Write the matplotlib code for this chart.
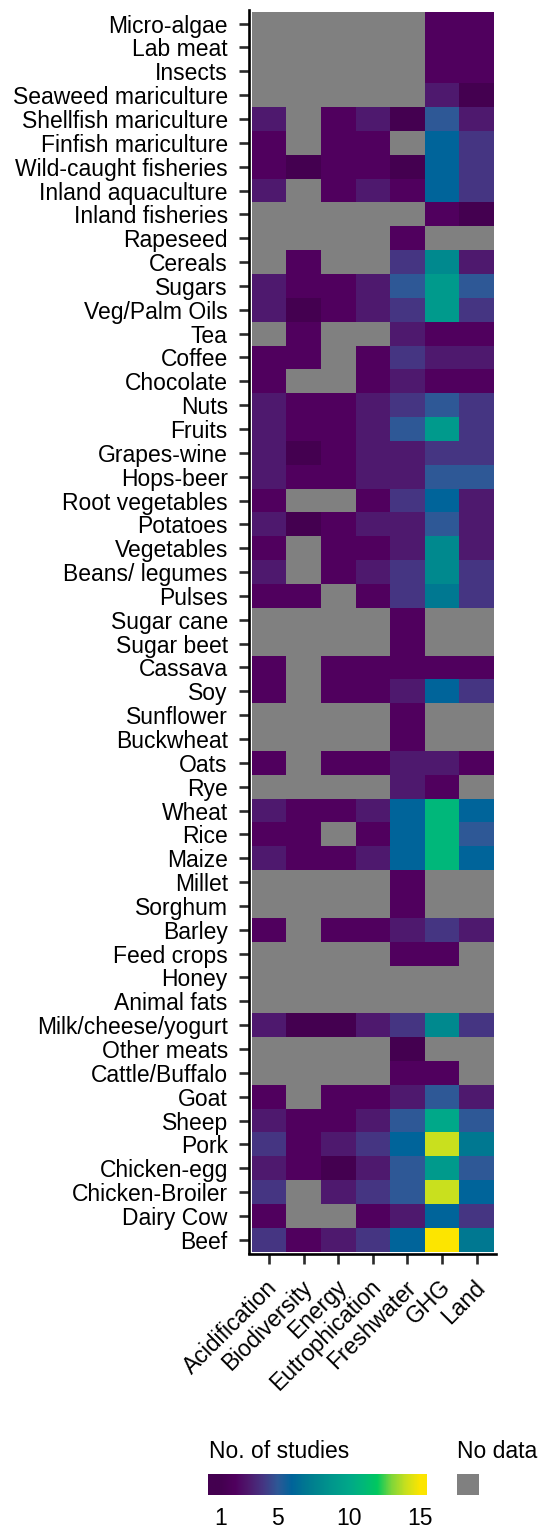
import numpy as np
import matplotlib
matplotlib.use("Agg")
import matplotlib.pyplot as plt
from matplotlib.colors import LinearSegmentedColormap, Normalize
from matplotlib.patches import Rectangle
from matplotlib.transforms import ScaledTranslation

plt.rcParams['font.family'] = ['Liberation Sans', 'DejaVu Sans']

N = np.nan

foods = ["Micro-algae", "Lab meat", "Insects", "Seaweed mariculture", "Shellfish mariculture",
         "Finfish mariculture", "Wild-caught fisheries", "Inland aquaculture", "Inland fisheries",
         "Rapeseed", "Cereals", "Sugars", "Veg/Palm Oils", "Tea", "Coffee", "Chocolate", "Nuts",
         "Fruits", "Grapes-wine", "Hops-beer", "Root vegetables", "Potatoes", "Vegetables",
         "Beans/ legumes", "Pulses", "Sugar cane", "Sugar beet", "Cassava", "Soy", "Sunflower",
         "Buckwheat", "Oats", "Rye", "Wheat", "Rice", "Maize", "Millet", "Sorghum", "Barley",
         "Feed crops", "Honey", "Animal fats", "Milk/cheese/yogurt", "Other meats",
         "Cattle/Buffalo", "Goat", "Sheep", "Pork", "Chicken-egg", "Chicken-Broiler",
         "Dairy Cow", "Beef"]

impacts = ["Acidification", "Biodiversity", "Energy", "Eutrophication", "Freshwater", "GHG", "Land"]

acidification = [N, N, N, N, 3, 2, 2, 3, N, N, N, 3, 3, N, 2, 2, 3, 3, 3, 3, 2, 3, 2, 3, 2, N,
                 N, 2, 2, N, N, 2, N, 3, 2, 3, N, N, 2, N, N, N, 3, N, N, 2, 3, 4, 3, 4, 2, 4]
biodiversity = [N, N, N, N, N, N, 1, N, N, N, 2, 2, 1, 2, 2, N, 2, 2, 1, 2, N, 1, N, N, 2, N,
                N, N, N, N, N, N, N, 2, 2, 2, N, N, N, N, N, N, 1, N, N, N, 2, 2, 2, N, N, 2]
energy = [N, N, N, N, 2, 2, 2, 2, N, N, N, 2, 2, N, N, N, 2, 2, 2, 2, N, 2, 2, 2, N, N,
          N, 2, 2, N, N, 2, N, 2, N, 2, N, N, 2, N, N, N, 1, N, N, 2, 2, 3, 1, 3, N, 3]
eutrophication = [N, N, N, N, 3, 2, 2, 3, N, N, N, 3, 3, N, 2, 2, 3, 3, 3, 3, 2, 3, 2, 3, 2, N,
                  N, 2, 2, N, N, 2, N, 3, 2, 3, N, N, 2, N, N, N, 3, N, N, 2, 3, 4, 3, 4, 2, 4]
freshwater = [N, N, N, N, 1, N, 1, 2, N, 2, 4, 5, 4, 3, 4, 3, 4, 5, 3, 3, 4, 3, 3, 4, 4, 2,
              2, 2, 3, 2, 2, 3, 3, 6, 6, 6, 2, 2, 3, 2, N, N, 4, 1, 2, 3, 5, 6, 5, 5, 3, 6]
ghg = [2, 2, 2, 3, 5, 6, 6, 6, 2, N, 8, 9, 9, 2, 3, 2, 5, 9, 4, 5, 6, 5, 8, 8, 7, N,
       N, 2, 6, N, N, 3, 2, 11, 11, 11, N, N, 4, 2, N, N, 8, N, 2, 5, 10, 14, 9, 14, 6, 15]
land = [2, 2, 2, 1, 3, 4, 4, 4, 1, N, 3, 5, 4, 2, 3, 2, 4, 4, 4, 5, 3, 3, 3, 4, 4, N,
        N, 2, 4, N, N, 2, N, 6, 5, 6, N, N, 3, N, N, N, 4, N, N, 3, 5, 7, 5, 6, 4, 7]

cbar_breaks = [1, 5, 10, 15]

# colour scale as rendered in the reference (saturated viridis look)
scale_colors = ['#440050', '#50005e', '#4e1a6e', '#453683', '#2e5896', '#00649a', '#007891',
                '#00898e', '#009a8c', '#00a889', '#00b77a', '#00c860', '#7fd63a', '#c8e01e',
                '#fce500']
cmap = LinearSegmentedColormap.from_list("vir_like", scale_colors, N=256)
cmap.set_bad('#808080')
norm = Normalize(vmin=1, vmax=15)

matrix = np.array([acidification, biodiversity, energy, eutrophication,
                   freshwater, ghg, land], dtype=float).T
masked = np.ma.masked_invalid(matrix)

W, H = 539, 1528
fig = plt.figure(figsize=(W / 100, H / 100), dpi=100)

def fx(px):
    return px / W

def fy(py):
    return 1 - py / H

left_px, right_px, top_px, bot_px = 248.7, 496.0, 10.5, 1253.5
ax = fig.add_axes([fx(left_px), fy(bot_px), fx(right_px - left_px), (bot_px - top_px) / H])

ncol, nrow = len(impacts), len(foods)
ax.pcolormesh(np.arange(ncol + 1), np.arange(nrow + 1), masked, cmap=cmap, norm=norm,
              edgecolors='none')
ax.set_xlim(-0.087, 7.06)
ax.set_ylim(52.075, -0.05)

for s in ['top', 'right']:
    ax.spines[s].set_visible(False)
for s in ['left', 'bottom']:
    ax.spines[s].set_linewidth(1.9)
    ax.spines[s].set_color('black')

ax.set_yticks(np.arange(nrow) + 0.5)
ax.set_yticklabels(foods, fontsize=16.5, color='black')
ax.set_xticks(np.arange(ncol) + 0.5)
ax.set_xticklabels(impacts, fontsize=16.5, color='black', rotation=45,
                   ha='right', va='top', rotation_mode='anchor')
ax.tick_params(axis='both', length=7.5, width=1.9, color='#2b2b2b')
ax.tick_params(axis='y', pad=7.5)
ax.tick_params(axis='x', pad=8.5)
shift = ScaledTranslation(-3 / 100, 0, fig.dpi_scale_trans)
for lab in ax.get_xticklabels():
    lab.set_transform(lab.get_transform() + shift)

# legend: colour bar
cb_l, cb_r, cb_t, cb_b = 208.3, 426.7, 1473.7, 1495.3
cax = fig.add_axes([fx(cb_l), fy(cb_b), fx(cb_r - cb_l), (cb_b - cb_t) / H])
v0, v1 = 0.15, 15.45
grad = np.linspace(v0, v1, 400).reshape(1, -1)
cax.imshow(grad, aspect='auto', cmap=cmap, norm=norm, extent=[v0, v1, 0, 1])
cax.set_xlim(v0, v1)
cax.set_ylim(0, 1)
cax.set_yticks([])
cax.set_xticks(cbar_breaks)
cax.set_xticklabels([str(b) for b in cbar_breaks], fontsize=16.5)
cax.tick_params(axis='x', length=0, pad=8.5)
for s in cax.spines.values():
    s.set_visible(False)

fig.text(fx(209), fy(1458), "No. of studies", fontsize=16.5, ha='left', va='baseline')
fig.text(fx(457), fy(1458), "No data", fontsize=16.5, ha='left', va='baseline')
fig.patches.append(Rectangle((fx(457), fy(1495.3)), fx(22), (1495.3 - 1473.7) / H,
                             transform=fig.transFigure, facecolor='#808080',
                             edgecolor='none'))

fig.savefig("out.png", dpi=100)
